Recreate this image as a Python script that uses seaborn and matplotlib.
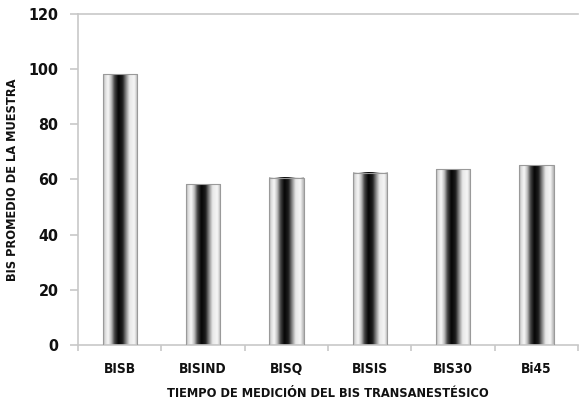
import numpy as np
import pandas as pd
import matplotlib
matplotlib.use("Agg")
import matplotlib.pyplot as plt
import seaborn as sns
from matplotlib.colors import LinearSegmentedColormap

categories = ["BISB", "BISIND", "BISQ", "BISIS", "BIS30", "Bi45"]
values = [98.0, 58.2, 60.6, 62.3, 63.6, 65.0]
y_ticks = [0, 20, 40, 60, 80, 100, 120]

sns.set_theme(style="white")
plt.rcParams['font.family'] = ['DejaVu Sans']
plt.rcParams['font.stretch'] = 'condensed'
plt.rcParams['font.weight'] = 'bold'
plt.rcParams['axes.labelweight'] = 'bold'

df = pd.DataFrame({"tiempo": categories, "bis": values})

fig = plt.figure(figsize=(5.79, 4.07), dpi=100)
ax = fig.add_axes([0.1347, 0.1523, 0.864, 0.8145])

sns.barplot(data=df, x="tiempo", y="bis", color="white", width=0.41,
            edgecolor="#9a9a9a", linewidth=0.8, ax=ax, zorder=3)

# cylinder-like grey shading across each bar
stops = [(0.0, "#a8a8a8"), (0.06, "#dcdcdc"), (0.15, "#f8f8f8"), (0.24, "#bcbcbc"),
         (0.33, "#454545"), (0.44, "#050505"), (0.56, "#1e1e1e"), (0.66, "#888888"),
         (0.76, "#e8e8e8"), (0.9, "#f6f6f6"), (1.0, "#b0b0b0")]
cyl = LinearSegmentedColormap.from_list("cyl", stops)
grad = np.linspace(0, 1, 256).reshape(1, -1)
for p in ax.patches:
    x0 = p.get_x()
    w = p.get_width()
    h = p.get_height()
    ax.imshow(grad, extent=[x0, x0 + w, 0, h], aspect="auto", cmap=cyl,
              zorder=2.5, interpolation="bicubic")
    p.set_facecolor("none")

ax.set_xlim(-0.5, len(categories) - 0.5)
ax.set_ylim(0, 120)
ax.set_yticks(y_ticks)

spine_col = "#c8c8c8"
for s in ["left", "bottom", "top"]:
    ax.spines[s].set_visible(True)
    ax.spines[s].set_color(spine_col)
    ax.spines[s].set_linewidth(1.2)
ax.spines["right"].set_visible(False)

ax.tick_params(axis="y", which="major", left=True, length=6, width=1.2,
               color=spine_col, pad=8, labelsize=11.5, labelcolor="#111111")
ax.set_xticks(np.arange(-0.5, len(categories), 1.0), minor=True)
ax.tick_params(axis="x", which="major", length=0, pad=12, labelsize=9.8,
               labelcolor="#111111")
ax.tick_params(axis="x", which="minor", bottom=True, length=4, width=1.2,
               color=spine_col)

ax.set_xlabel("TIEMPO DE MEDICIÓN DEL BIS TRANSANESTÉSICO", fontsize=9.2,
              color="#111111", labelpad=8)
ax.set_ylabel("BIS PROMEDIO DE LA MUESTRA", fontsize=9.2, color="#111111",
              labelpad=7)

fig.savefig("out.png", dpi=100, facecolor="white")
